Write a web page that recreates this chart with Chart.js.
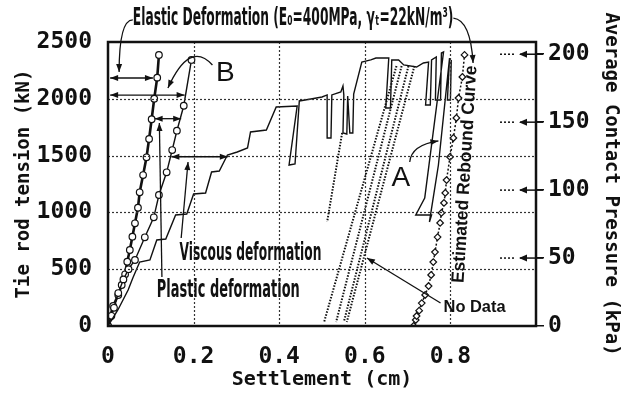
<!DOCTYPE html>
<html>
<head>
<meta charset="utf-8">
<script src="https://cdn.jsdelivr.net/npm/chart.js@4.4.1/dist/chart.umd.min.js"></script>
<style>
  html, body { margin: 0; padding: 0; background: #fff; }
  #wrap { width: 626px; height: 394px; }
</style>
</head>
<body>
<div id="wrap"><canvas id="chart" width="626" height="394"></canvas></div>
<script>
// values: settlement (cm) vs tie rod tension (kN)
const xTicks = [0, 0.2, 0.4, 0.6, 0.8];
const leftTicks = [0, 500, 1000, 1500, 2000, 2500];
const rightTicks = [0, 50, 100, 150, 200];

// elastic line (thick, circles)
const elasticX = [0, 0.005, 0.012, 0.024, 0.032, 0.040, 0.045, 0.051, 0.057, 0.063, 0.070, 0.074, 0.082, 0.090, 0.096, 0.102, 0.108, 0.115, 0.119];
const elasticY = [0, 82, 176, 273, 361, 455, 566, 669, 786, 904, 1041, 1177, 1329, 1485, 1646, 1820, 2001, 2186, 2386];

// curve B (circles)
const curveBX = [0, 0.008, 0.014, 0.024, 0.036, 0.048, 0.063, 0.086, 0.107, 0.119, 0.137, 0.150, 0.161, 0.177, 0.195];
const curveBY = [0, 90, 160, 290, 410, 500, 581, 781, 957, 1153, 1353, 1549, 1719, 1939, 2342];

// measured loading curve
const loadX = [0, 0.023, 0.047, 0.058, 0.074, 0.098, 0.114, 0.135, 0.158, 0.184, 0.200, 0.228, 0.242, 0.260, 0.279, 0.302, 0.326, 0.333, 0.370, 0.393, 0.442, 0.423, 0.437, 0.447, 0.474, 0.500, 0.512, 0.512, 0.521, 0.523, 0.544, 0.549, 0.551, 0.549, 0.558, 0.560, 0.565, 0.572, 0.574, 0.593, 0.614, 0.626, 0.656, 0.649, 0.660, 0.663, 0.679, 0.691, 0.721, 0.737, 0.749, 0.742, 0.753, 0.756, 0.767, 0.765, 0.777, 0.779, 0.784, 0.740, 0.719, 0.756, 0.751, 0.772, 0.798, 0.793, 0.800, 0.802];
const loadY = [0, 141, 317, 423, 563, 581, 757, 766, 977, 986, 1162, 1171, 1356, 1364, 1505, 1532, 1567, 1708, 1725, 1928, 1937, 1417, 1426, 1981, 1998, 2016, 2034, 1655, 1655, 2034, 2060, 2113, 2034, 1699, 1690, 2025, 1699, 1699, 2042, 2324, 2342, 2359, 2359, 1919, 1919, 2342, 2342, 2298, 2280, 2315, 2324, 1945, 1945, 2342, 2368, 1989, 1989, 2403, 2412, 1127, 977, 977, 916, 1417, 2359, 1989, 1989, 2342];

// estimated rebound curve (diamonds)
const reboundX = [0.714, 0.719, 0.721, 0.727, 0.733, 0.741, 0.749, 0.755, 0.760, 0.764, 0.770, 0.776, 0.779, 0.785, 0.788, 0.791, 0.799, 0.807, 0.814, 0.819, 0.828, 0.833];
const reboundY = [0, 53, 88, 135, 202, 273, 352, 449, 563, 651, 783, 907, 995, 1083, 1171, 1285, 1488, 1655, 1831, 2007, 2192, 2386];

// dotted segments where no data was recorded
const noDataX = [[0.674, 0.505], [0.686, 0.533], [0.702, 0.551], [0.716, 0.558], [0.547, 0.512]];
const noDataY = [[2289, 35], [2289, 35], [2289, 35], [2289, 35], [1699, 916]];

const ink = '#111';
const pts = (xs, ys) => xs.map((x, i) => ({ x: x, y: ys[i] }));

function head(ctx, x, y, ang, len, half) {
    len = len || 8; half = half || 3;
    const c = Math.cos(ang), s = Math.sin(ang);
    ctx.beginPath();
    ctx.moveTo(x, y);
    ctx.lineTo(x - len * c + half * s, y - len * s - half * c);
    ctx.lineTo(x - len * c - half * s, y - len * s + half * c);
    ctx.closePath();
    ctx.fill();
}
function arrow(ctx, x0, y0, x1, y1, both) {
    ctx.beginPath(); ctx.moveTo(x0, y0); ctx.lineTo(x1, y1); ctx.stroke();
    const a = Math.atan2(y1 - y0, x1 - x0);
    head(ctx, x1, y1, a);
    if (both) head(ctx, x0, y0, a + Math.PI);
}
function curved(ctx, x0, y0, cx, cy, x1, y1) {
    ctx.beginPath(); ctx.moveTo(x0, y0); ctx.quadraticCurveTo(cx, cy, x1, y1); ctx.stroke();
    head(ctx, x1, y1, Math.atan2(y1 - cy, x1 - cx));
}
function fitText(ctx, text, x, y, w, font, rot) {
    ctx.save();
    ctx.font = font;
    ctx.translate(x, y);
    if (rot) ctx.rotate(rot);
    ctx.scale(w / ctx.measureText(text).width, 1);
    ctx.textAlign = 'left';
    ctx.textBaseline = 'middle';
    ctx.fillText(text, 0, 0);
    ctx.restore();
}

const notes = {
    id: 'notes',
    afterDraw(chart) {
        const ctx = chart.ctx, area = chart.chartArea;
        const sx = chart.scales.x, sy = chart.scales.y, sr = chart.scales.y2;
        const X = v => sx.getPixelForValue(v), Y = v => sy.getPixelForValue(v);
        ctx.save();
        ctx.fillStyle = ink; ctx.strokeStyle = ink;

        // dotted grid at the scale ticks
        ctx.lineWidth = 1.2;
        ctx.strokeStyle = '#333';
        ctx.setLineDash([2, 2]);
        sx.ticks.forEach(t => {
            if (t.value <= sx.min || t.value >= sx.max) return;
            const px = Math.round(sx.getPixelForValue(t.value)) + 0.5;
            ctx.beginPath(); ctx.moveTo(px, area.top); ctx.lineTo(px, area.bottom); ctx.stroke();
        });
        sy.ticks.forEach(t => {
            if (t.value <= sy.min || t.value >= sy.max) return;
            const py = Math.round(sy.getPixelForValue(t.value)) + 0.5;
            ctx.beginPath(); ctx.moveTo(area.left, py); ctx.lineTo(area.right, py); ctx.stroke();
        });
        ctx.setLineDash([]);
        ctx.strokeStyle = ink;

        // frame
        ctx.lineWidth = 2.5;
        ctx.strokeRect(area.left, area.top, area.right - area.left, area.bottom - area.top);

        // arrows pointing at right axis ticks
        ctx.lineWidth = 1.5;
        rightTicks.forEach(v => {
            if (v === 0) return;
            const py = sr.getPixelForValue(v);
            ctx.setLineDash([2, 2]);
            ctx.beginPath(); ctx.moveTo(area.right - 36, py); ctx.lineTo(area.right - 20, py); ctx.stroke();
            ctx.setLineDash([]);
            ctx.beginPath(); ctx.moveTo(area.right - 16, py); ctx.lineTo(area.right + 7, py); ctx.stroke();
            head(ctx, area.right - 17, py, Math.PI, 8, 3.5);
        });

        // horizontal deformation arrows
        ctx.lineWidth = 1.3;
        arrow(ctx, X(0.005), Y(2183), X(0.105), Y(2183), true);
        arrow(ctx, X(0.005), Y(2033), X(0.179), Y(2033), true);
        arrow(ctx, X(0.109), Y(1825), X(0.171), Y(1825), true);
        arrow(ctx, X(0.148), Y(1490), X(0.280), Y(1490), true);

        // pointer lines
        arrow(ctx, X(0.171), Y(775), X(0.187), Y(1444));
        arrow(ctx, X(0.126), Y(431), X(0.120), Y(1787));
        curved(ctx, X(0.058), Y(2694), X(0.026), Y(2694), X(0.026), Y(2236));
        curved(ctx, X(0.807), Y(2711), X(0.847), Y(2694), X(0.853), Y(2315));
        curved(ctx, X(0.244), Y(2298), X(0.191), Y(2520), X(0.140), Y(2095));
        curved(ctx, X(0.705), Y(1444), X(0.709), Y(1593), X(0.772), Y(1629));
        arrow(ctx, X(0.777), Y(202), X(0.605), Y(599));

        // labels
        fitText(ctx, 'Elastic Deformation (E₀=400MPa, γₜ=22kN/m³)', X(0.058), Y(2703), X(0.807) - X(0.058), 'bold 25px "DejaVu Sans"');
        fitText(ctx, 'Viscous deformation', X(0.167), Y(634), 142, 'bold 24px "DejaVu Sans"');
        fitText(ctx, 'Plastic deformation', X(0.114), Y(308), 143, 'bold 24px "DejaVu Sans"');
        fitText(ctx, 'No Data', X(0.784), Y(158), 62, 'bold 16px "Liberation Sans"');
        fitText(ctx, 'Estimated Rebound Curve', X(0.819), Y(378), 218, 'bold 18px "Liberation Sans"', -1.511);

        ctx.font = '28px "Liberation Sans"';
        ctx.textAlign = 'center'; ctx.textBaseline = 'middle';
        ctx.fillText('B', X(0.274), Y(2224));
        ctx.fillText('A', X(0.684), Y(1303));
        ctx.restore();
    }
};

const tickFont = { family: '"DejaVu Sans Mono"', size: 23, weight: 'bold' };
const titleFont = { family: '"DejaVu Sans Mono"', size: 19, weight: 'bold' };

new Chart(document.getElementById('chart'), {
    type: 'scatter',
    data: {
        datasets: [
            {
                data: pts(reboundX, reboundY), showLine: true,
                borderColor: ink, borderWidth: 1.5, borderDash: [2, 2],
                pointStyle: 'rectRot', pointRadius: 3.3, pointBorderWidth: 1.2,
                pointBackgroundColor: '#fff', pointBorderColor: ink
            },
            ...noDataX.map((xs, i) => ({
                data: pts(xs, noDataY[i]), showLine: true,
                borderColor: ink, borderWidth: 2, borderDash: [1.5, 1.5], pointRadius: 0
            })),
            {
                data: pts(loadX, loadY), showLine: true,
                borderColor: ink, borderWidth: 1.4, pointRadius: 0
            },
            {
                data: pts(curveBX, curveBY), showLine: true,
                borderColor: ink, borderWidth: 1.4,
                pointRadius: 3.3, pointBorderWidth: 1.2, pointBackgroundColor: '#fff', pointBorderColor: ink
            },
            {
                data: pts(elasticX, elasticY), showLine: true,
                borderColor: ink, borderWidth: 2.6,
                pointRadius: 3.3, pointBorderWidth: 1.2, pointBackgroundColor: '#fff', pointBorderColor: ink
            }
        ]
    },
    options: {
        responsive: false,
        animation: false,
        layout: { padding: { top: 42, left: 0, right: 0, bottom: 0 } },
        plugins: { legend: { display: false }, tooltip: { enabled: false } },
        scales: {
            x: {
                type: 'linear', min: 0, max: 1,
                afterFit: s => { s.height = 68; },
                afterBuildTicks: s => { s.ticks = xTicks.map(v => ({ value: v })); },
                ticks: { padding: 9, color: ink, font: tickFont, maxRotation: 0,
                    callback: v => v === 0 ? '0' : v.toFixed(1) },
                grid: { display: false },
                border: { display: false },
                title: { display: true, text: 'Settlement (cm)', color: ink,
                    font: { family: '"DejaVu Sans Mono"', size: 20, weight: 'bold' }, padding: { top: 0, bottom: 2 } }
            },
            y: {
                type: 'linear', position: 'left', min: 0, max: 2500,
                afterFit: s => { s.width = 108; },
                afterBuildTicks: s => { s.ticks = leftTicks.map(v => ({ value: v })); },
                ticks: { padding: 8, color: ink, font: tickFont, callback: v => String(v) },
                grid: { display: false },
                border: { display: false },
                title: { display: true, text: 'Tie rod tension (kN)', color: ink, font: titleFont,
                    padding: { top: 13, bottom: 0 } }
            },
            y2: {
                type: 'linear', position: 'right', min: 0, max: 209,
                afterFit: s => { s.width = 90; },
                afterBuildTicks: s => { s.ticks = rightTicks.map(v => ({ value: v })); },
                ticks: { padding: 4, color: ink, font: tickFont, callback: v => String(v) },
                grid: { drawOnChartArea: false, drawTicks: true, tickLength: 8, color: ink, lineWidth: 1.5 },
                border: { display: false },
                title: { display: true, text: 'Average Contact Pressure (kPa)', color: ink, font: titleFont,
                    padding: { top: 4, bottom: 0 } }
            }
        }
    },
    plugins: [notes]
});
</script>
</body>
</html>
